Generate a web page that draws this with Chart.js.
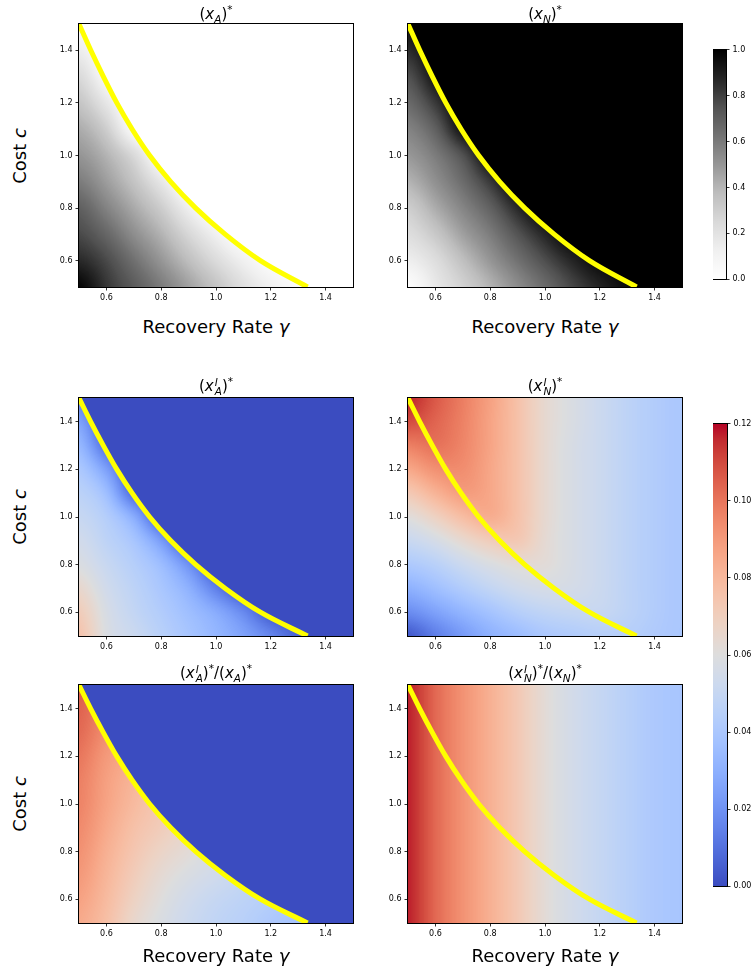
<!DOCTYPE html>
<html>
<head>
<meta charset="utf-8">
<script src="https://cdn.jsdelivr.net/npm/chart.js@4.4.0/dist/chart.umd.min.js"></script>
<style>
  body { margin: 0; width: 753px; height: 974px; overflow: hidden; position: relative; background: #fff; font-family: 'DejaVu Sans', sans-serif; color: #000; }
  .box { position: absolute; }
  .title { position: absolute; font-size: 15px; line-height: 1; white-space: nowrap; transform: translateX(-50%); }
  .title sub, .title sup { font-size: 0.7em; line-height: 0; }
  .ss { display: inline-flex; flex-direction: column; font-size: 0.7em; line-height: 0.85; vertical-align: 0.45em; font-style: italic; margin-left: 1px; }
  .xlab, .ylab { position: absolute; font-size: 18px; line-height: 1; white-space: nowrap; }
  .xlab { transform: translate(-50%, -50%); }
  .ylab { transform: translate(-50%, -50%) rotate(-90deg); }
</style>
</head>
<body>
<script>
// axes
const gammaRange = [0.5, 1.5];
const costRange = [0.5, 1.5];
const gammaTicks = [0.6, 0.8, 1.0, 1.2, 1.4];
const costTicks = [0.6, 0.8, 1.0, 1.2, 1.4];

// sample grid: columns gamma 0.5 .. 1.5, rows cost 1.5 (top) .. 0.5 (bottom)
const gridGamma = [0.5, 0.6, 0.7, 0.8, 0.9, 1.0, 1.1, 1.2, 1.3, 1.4, 1.5];
const gridCost = [1.5, 1.4, 1.3, 1.2, 1.1, 1.0, 0.9, 0.8, 0.7, 0.6, 0.5];

// threshold curve
const boundaryGamma = [0.5, 0.543, 0.589, 0.638, 0.694, 0.758, 0.835, 0.926, 1.034, 1.162, 1.334];
const boundaryCost = [1.5, 1.4, 1.3, 1.2, 1.1, 1.0, 0.9, 0.8, 0.7, 0.6, 0.5];

// (x_A)*
const xA = [
  [0.05, 0.00, 0.00, 0.00, 0.00, 0.00, 0.00, 0.00, 0.00, 0.00, 0.00],
  [0.15, 0.02, 0.00, 0.00, 0.00, 0.00, 0.00, 0.00, 0.00, 0.00, 0.00],
  [0.26, 0.06, 0.00, 0.00, 0.00, 0.00, 0.00, 0.00, 0.00, 0.00, 0.00],
  [0.35, 0.18, 0.00, 0.00, 0.00, 0.00, 0.00, 0.00, 0.00, 0.00, 0.00],
  [0.44, 0.31, 0.04, 0.00, 0.00, 0.00, 0.00, 0.00, 0.00, 0.00, 0.00],
  [0.51, 0.41, 0.26, 0.02, 0.00, 0.00, 0.00, 0.00, 0.00, 0.00, 0.00],
  [0.60, 0.48, 0.35, 0.18, 0.00, 0.00, 0.00, 0.00, 0.00, 0.00, 0.00],
  [0.71, 0.57, 0.44, 0.31, 0.13, 0.00, 0.00, 0.00, 0.00, 0.00, 0.00],
  [0.78, 0.68, 0.53, 0.41, 0.26, 0.12, 0.00, 0.00, 0.00, 0.00, 0.00],
  [0.87, 0.78, 0.64, 0.50, 0.37, 0.24, 0.12, 0.02, 0.00, 0.00, 0.00],
  [1.00, 0.83, 0.72, 0.60, 0.47, 0.35, 0.22, 0.12, 0.04, 0.00, 0.00]
];

// (x_N)*
const xN = [
  [0.95, 1.00, 1.00, 1.00, 1.00, 1.00, 1.00, 1.00, 1.00, 1.00, 1.00],
  [0.85, 0.98, 1.00, 1.00, 1.00, 1.00, 1.00, 1.00, 1.00, 1.00, 1.00],
  [0.74, 0.94, 1.00, 1.00, 1.00, 1.00, 1.00, 1.00, 1.00, 1.00, 1.00],
  [0.65, 0.82, 1.00, 1.00, 1.00, 1.00, 1.00, 1.00, 1.00, 1.00, 1.00],
  [0.56, 0.69, 0.96, 1.00, 1.00, 1.00, 1.00, 1.00, 1.00, 1.00, 1.00],
  [0.49, 0.59, 0.74, 0.98, 1.00, 1.00, 1.00, 1.00, 1.00, 1.00, 1.00],
  [0.40, 0.52, 0.65, 0.82, 1.00, 1.00, 1.00, 1.00, 1.00, 1.00, 1.00],
  [0.29, 0.43, 0.56, 0.69, 0.87, 1.00, 1.00, 1.00, 1.00, 1.00, 1.00],
  [0.22, 0.32, 0.47, 0.59, 0.74, 0.88, 1.00, 1.00, 1.00, 1.00, 1.00],
  [0.13, 0.22, 0.36, 0.50, 0.63, 0.76, 0.88, 0.98, 1.00, 1.00, 1.00],
  [0.00, 0.17, 0.28, 0.40, 0.53, 0.65, 0.78, 0.88, 0.96, 1.00, 1.00]
];

// (x_A^I)*
const xAI = [
  [0.015, 0.000, 0.000, 0.000, 0.000, 0.000, 0.000, 0.000, 0.000, 0.000, 0.000],
  [0.027, 0.002, 0.000, 0.000, 0.000, 0.000, 0.000, 0.000, 0.000, 0.000, 0.000],
  [0.035, 0.008, 0.000, 0.000, 0.000, 0.000, 0.000, 0.000, 0.000, 0.000, 0.000],
  [0.042, 0.025, 0.000, 0.000, 0.000, 0.000, 0.000, 0.000, 0.000, 0.000, 0.000],
  [0.047, 0.037, 0.006, 0.000, 0.000, 0.000, 0.000, 0.000, 0.000, 0.000, 0.000],
  [0.051, 0.044, 0.030, 0.002, 0.000, 0.000, 0.000, 0.000, 0.000, 0.000, 0.000],
  [0.055, 0.047, 0.040, 0.024, 0.000, 0.000, 0.000, 0.000, 0.000, 0.000, 0.000],
  [0.059, 0.051, 0.044, 0.036, 0.020, 0.000, 0.000, 0.000, 0.000, 0.000, 0.000],
  [0.066, 0.054, 0.047, 0.040, 0.031, 0.014, 0.000, 0.000, 0.000, 0.000, 0.000],
  [0.072, 0.057, 0.049, 0.043, 0.036, 0.029, 0.018, 0.002, 0.000, 0.000, 0.000],
  [0.076, 0.058, 0.052, 0.045, 0.039, 0.033, 0.026, 0.017, 0.006, 0.000, 0.000]
];

// (x_N^I)*
const xNI = [
  [0.118, 0.107, 0.098, 0.088, 0.076, 0.064, 0.058, 0.052, 0.047, 0.043, 0.040],
  [0.110, 0.104, 0.097, 0.087, 0.076, 0.064, 0.058, 0.052, 0.047, 0.043, 0.040],
  [0.097, 0.101, 0.096, 0.087, 0.076, 0.064, 0.057, 0.052, 0.047, 0.043, 0.040],
  [0.085, 0.093, 0.094, 0.086, 0.076, 0.064, 0.057, 0.052, 0.047, 0.043, 0.040],
  [0.072, 0.082, 0.090, 0.086, 0.076, 0.064, 0.057, 0.052, 0.047, 0.043, 0.040],
  [0.060, 0.068, 0.078, 0.085, 0.076, 0.064, 0.057, 0.052, 0.047, 0.043, 0.040],
  [0.051, 0.056, 0.064, 0.071, 0.074, 0.063, 0.057, 0.052, 0.047, 0.043, 0.040],
  [0.041, 0.045, 0.052, 0.058, 0.062, 0.062, 0.057, 0.052, 0.047, 0.043, 0.040],
  [0.030, 0.036, 0.043, 0.049, 0.054, 0.057, 0.056, 0.052, 0.047, 0.043, 0.040],
  [0.018, 0.025, 0.032, 0.038, 0.044, 0.048, 0.050, 0.051, 0.047, 0.043, 0.040],
  [0.002, 0.013, 0.022, 0.030, 0.035, 0.040, 0.042, 0.044, 0.044, 0.042, 0.040]
];

// (x_A^I)*/(x_A)*
const ratioA = [
  [0.107, 0.097, 0.089, 0.081, 0.073, 0.064, 0.057, 0.051, 0.046, 0.042, 0.039],
  [0.105, 0.095, 0.087, 0.080, 0.072, 0.064, 0.057, 0.051, 0.046, 0.042, 0.039],
  [0.103, 0.093, 0.086, 0.079, 0.071, 0.063, 0.056, 0.050, 0.046, 0.042, 0.039],
  [0.100, 0.090, 0.084, 0.077, 0.070, 0.063, 0.056, 0.050, 0.045, 0.041, 0.038],
  [0.098, 0.088, 0.081, 0.075, 0.069, 0.062, 0.055, 0.050, 0.045, 0.041, 0.038],
  [0.097, 0.087, 0.079, 0.073, 0.067, 0.061, 0.055, 0.049, 0.045, 0.041, 0.038],
  [0.095, 0.085, 0.076, 0.071, 0.065, 0.060, 0.054, 0.049, 0.044, 0.041, 0.038],
  [0.093, 0.083, 0.074, 0.067, 0.062, 0.057, 0.052, 0.048, 0.044, 0.040, 0.037],
  [0.091, 0.081, 0.071, 0.063, 0.058, 0.054, 0.050, 0.046, 0.043, 0.040, 0.037],
  [0.088, 0.079, 0.068, 0.060, 0.054, 0.050, 0.047, 0.044, 0.041, 0.039, 0.036],
  [0.085, 0.077, 0.065, 0.058, 0.052, 0.048, 0.045, 0.041, 0.038, 0.036, 0.034]
];

// (x_N^I)*/(x_N)*  (constant along cost, one row)
const ratioN = [
  [0.118, 0.103, 0.092, 0.083, 0.073, 0.062, 0.055, 0.050, 0.045, 0.041, 0.039]
];

// colour bars
const greysTicks = [0.0, 0.2, 0.4, 0.6, 0.8, 1.0];
const coolTicks = [0.00, 0.02, 0.04, 0.06, 0.08, 0.10, 0.12];

// colour maps
const GREYS = [[255,255,255],[240,240,240],[217,217,217],[189,189,189],[150,150,150],[115,115,115],[82,82,82],[37,37,37],[0,0,0]];
const COOLWARM = [
  [59,76,192],[68,90,204],[77,104,215],[87,117,225],[98,130,234],[108,142,241],[119,154,247],[130,165,251],
  [141,176,254],[152,185,255],[163,194,255],[174,201,253],[184,208,249],[194,213,244],[204,217,238],[213,219,230],
  [221,221,221],[229,216,209],[236,211,197],[241,204,185],[245,196,173],[247,187,160],[247,177,148],[247,166,135],
  [244,154,123],[241,141,111],[236,127,99],[229,112,88],[222,96,77],[213,80,66],[203,62,56],[192,40,47],[180,4,38]
];

function sampleMap(stops, t) {
  t = Math.min(1, Math.max(0, t));
  const f = t * (stops.length - 1);
  const i = Math.min(stops.length - 2, Math.floor(f));
  const k = f - i;
  const a = stops[i], b = stops[i + 1];
  return [a[0] + (b[0] - a[0]) * k, a[1] + (b[1] - a[1]) * k, a[2] + (b[2] - a[2]) * k];
}
function cssColor(rgb) {
  return 'rgb(' + rgb.map(Math.round).join(',') + ')';
}

const FONT = 'DejaVu Sans';
const AX_W = 40, AX_H = 24, PAD_T = 8, PAD_R = 8;
const PLOT_W = 274;

// paint one field into the chart area: values go through a grey image, get smoothed
// by the canvas scaler, then are recoloured with the colour map
function paintField(chart, p) {
  const ctx = chart.ctx, area = chart.chartArea;
  const xs = chart.scales.x, ys = chart.scales.y;
  const grid = p.field, nr = grid.length, nc = grid[0].length;

  const src = document.createElement('canvas');
  src.width = nc + 2; src.height = nr + 2;
  const sctx = src.getContext('2d');
  const img = sctx.createImageData(nc + 2, nr + 2);
  for (let r = 0; r < nr + 2; r++) {
    for (let c = 0; c < nc + 2; c++) {
      const rr = Math.min(nr - 1, Math.max(0, r - 1));
      const cc = Math.min(nc - 1, Math.max(0, c - 1));
      const g = Math.round(Math.min(1, Math.max(0, grid[rr][cc] / p.vmax)) * 255);
      const i = (r * (nc + 2) + c) * 4;
      img.data[i] = g; img.data[i + 1] = g; img.data[i + 2] = g; img.data[i + 3] = 255;
    }
  }
  sctx.putImageData(img, 0, 0);

  const x0 = xs.getPixelForValue(gridGamma[0]), x1 = xs.getPixelForValue(gridGamma[gridGamma.length - 1]);
  const y0 = ys.getPixelForValue(gridCost[0]), y1 = ys.getPixelForValue(gridCost[gridCost.length - 1]);
  const cw = nc > 1 ? (x1 - x0) / (nc - 1) : (x1 - x0);
  const ch = nr > 1 ? (y1 - y0) / (nr - 1) : (y1 - y0);
  const cx = nc > 1 ? x0 : (x0 + x1) / 2;
  const cy = nr > 1 ? y0 : (y0 + y1) / 2;

  const W = Math.round(area.right - area.left), H = Math.round(area.bottom - area.top);
  const big = document.createElement('canvas');
  big.width = W; big.height = H;
  const bctx = big.getContext('2d');
  bctx.imageSmoothingEnabled = true;
  bctx.imageSmoothingQuality = 'high';
  bctx.drawImage(src, cx - 1.5 * cw - area.left, cy - 1.5 * ch - area.top, (nc + 2) * cw, (nr + 2) * ch);
  const pix = bctx.getImageData(0, 0, W, H);
  for (let i = 0; i < pix.data.length; i += 4) {
    const rgb = sampleMap(p.cmap, pix.data[i] / 255);
    pix.data[i] = rgb[0]; pix.data[i + 1] = rgb[1]; pix.data[i + 2] = rgb[2]; pix.data[i + 3] = 255;
  }
  bctx.putImageData(pix, 0, 0);

  ctx.save();
  if (p.above !== undefined) {
    // constant region above the threshold curve, field clipped below it
    ctx.fillStyle = cssColor(sampleMap(p.cmap, p.above / p.vmax));
    ctx.fillRect(area.left, area.top, area.right - area.left, area.bottom - area.top);
    const line = chart.getDatasetMeta(0).dataset;
    ctx.beginPath();
    if (line && typeof line.path === 'function') {
      if (typeof line.updateControlPoints === 'function') line.updateControlPoints(area, 'x');
      line.path(ctx);
    } else {
      chart.getDatasetMeta(0).data.forEach((pt, i) => i ? ctx.lineTo(pt.x, pt.y) : ctx.moveTo(pt.x, pt.y));
    }
    ctx.lineTo(area.left - 2, area.bottom + 2);
    ctx.lineTo(area.left - 2, area.top - 2);
    ctx.closePath();
    ctx.clip();
  }
  ctx.drawImage(big, area.left, area.top);
  ctx.restore();
}

const framePlugin = {
  id: 'frame',
  afterDraw(chart) {
    const ctx = chart.ctx, a = chart.chartArea;
    ctx.save();
    ctx.strokeStyle = '#000';
    ctx.lineWidth = 1;
    ctx.strokeRect(Math.round(a.left) - 0.5, Math.round(a.top) - 0.5, Math.round(a.right - a.left) + 1, Math.round(a.bottom - a.top) + 1);
    ctx.restore();
  }
};

function tickStyle(decimals) {
  return { font: { family: FONT, size: 8 }, color: '#000', padding: 3, maxRotation: 0, autoSkip: false,
           callback: v => Number(v).toFixed(decimals) };
}
const tickGrid = { drawOnChartArea: false, drawTicks: true, tickLength: 3.5, color: '#000', lineWidth: 0.8 };

function makePanel(p) {
  const W = PLOT_W + AX_W + PAD_R, H = p.h + PAD_T + AX_H;
  const div = document.createElement('div');
  div.className = 'box';
  div.style.left = (p.left - AX_W) + 'px';
  div.style.top = (p.top - PAD_T) + 'px';
  const cv = document.createElement('canvas');
  cv.width = W; cv.height = H;
  cv.style.width = W + 'px'; cv.style.height = H + 'px';
  div.appendChild(cv);
  document.body.appendChild(div);

  const curve = boundaryGamma.map((g, i) => ({ x: g, y: boundaryCost[i] }));

  new Chart(cv, {
    type: 'line',
    data: {
      datasets: [{
        data: curve,
        borderColor: '#ffff00',
        borderWidth: 5,
        pointRadius: 0,
        cubicInterpolationMode: 'monotone',
        fill: false,
        clip: 0
      }]
    },
    options: {
      responsive: false,
      animation: false,
      devicePixelRatio: 1,
      layout: { padding: { top: PAD_T, right: PAD_R, left: 0, bottom: 0 } },
      plugins: { legend: { display: false }, tooltip: { enabled: false } },
      scales: {
        x: {
          type: 'linear', min: gammaRange[0], max: gammaRange[1],
          afterBuildTicks: s => { s.ticks = gammaTicks.map(v => ({ value: v })); },
          afterFit: s => { s.height = AX_H; },
          ticks: tickStyle(1),
          grid: tickGrid,
          border: { display: true, color: '#000', width: 1 }
        },
        y: {
          type: 'linear', min: costRange[0], max: costRange[1],
          afterBuildTicks: s => { s.ticks = costTicks.map(v => ({ value: v })); },
          afterFit: s => { s.width = AX_W; },
          ticks: tickStyle(1),
          grid: tickGrid,
          border: { display: true, color: '#000', width: 1 }
        }
      }
    },
    plugins: [{ id: 'heat', beforeDatasetsDraw(chart) { paintField(chart, p); } }, framePlugin]
  });
}

function makeColorbar(cb) {
  const CB_AX = 28, PAD = 6;
  const W = cb.w + CB_AX, H = cb.h + 2 * PAD;
  const div = document.createElement('div');
  div.className = 'box';
  div.style.left = cb.left + 'px';
  div.style.top = (cb.top - PAD) + 'px';
  const cv = document.createElement('canvas');
  cv.width = W; cv.height = H;
  cv.style.width = W + 'px'; cv.style.height = H + 'px';
  div.appendChild(cv);
  document.body.appendChild(div);

  new Chart(cv, {
    type: 'scatter',
    data: { datasets: [] },
    options: {
      responsive: false,
      animation: false,
      devicePixelRatio: 1,
      layout: { padding: { top: PAD, bottom: PAD, left: 0, right: 0 } },
      plugins: { legend: { display: false }, tooltip: { enabled: false } },
      scales: {
        x: { display: false, min: 0, max: 1 },
        y: {
          position: 'right', min: cb.ticks[0], max: cb.ticks[cb.ticks.length - 1],
          afterBuildTicks: s => { s.ticks = cb.ticks.map(v => ({ value: v })); },
          afterFit: s => { s.width = CB_AX; },
          ticks: tickStyle(cb.decimals),
          grid: tickGrid,
          border: { display: true, color: '#000', width: 1 }
        }
      }
    },
    plugins: [{
      id: 'ramp',
      beforeDatasetsDraw(chart) {
        const ctx = chart.ctx, a = chart.chartArea;
        const grad = ctx.createLinearGradient(0, a.bottom, 0, a.top);
        cb.cmap.forEach((c, i) => grad.addColorStop(i / (cb.cmap.length - 1), cssColor(c)));
        ctx.save();
        ctx.fillStyle = grad;
        ctx.fillRect(a.left, a.top, a.right - a.left, a.bottom - a.top);
        ctx.restore();
      }
    }, framePlugin]
  });
}

const ROW_TOP = { top: 24, h: 263 }, ROW_MID = { top: 398, h: 238 }, ROW_BOT = { top: 685, h: 238 };
const COL_L = 79, COL_R = 408;

const panels = [
  { field: xA,     cmap: GREYS,    vmax: 1,    above: 0, left: COL_L, ...ROW_TOP },
  { field: xN,     cmap: GREYS,    vmax: 1,    above: 1, left: COL_R, ...ROW_TOP },
  { field: xAI,    cmap: COOLWARM, vmax: 0.12, above: 0, left: COL_L, ...ROW_MID },
  { field: xNI,    cmap: COOLWARM, vmax: 0.12,           left: COL_R, ...ROW_MID },
  { field: ratioA, cmap: COOLWARM, vmax: 0.12, above: 0, left: COL_L, ...ROW_BOT },
  { field: ratioN, cmap: COOLWARM, vmax: 0.12,           left: COL_R, ...ROW_BOT }
];
panels.forEach(makePanel);

makeColorbar({ left: 713, top: 48, w: 13, h: 233, cmap: GREYS, ticks: greysTicks, decimals: 1 });
makeColorbar({ left: 713, top: 422, w: 14, h: 466, cmap: COOLWARM, ticks: coolTicks, decimals: 2 });

// titles and axis labels
function addText(cls, html, x, y) {
  const d = document.createElement('div');
  d.className = cls;
  d.innerHTML = html;
  d.style.left = x + 'px';
  d.style.top = y + 'px';
  document.body.appendChild(d);
}
const xI_A = '<i>x</i><span class="ss"><span>I</span><span>A</span></span>';
const xI_N = '<i>x</i><span class="ss"><span>I</span><span>N</span></span>';
const cL = COL_L + PLOT_W / 2, cR = COL_R + PLOT_W / 2;

addText('title', '(<i>x</i><sub><i>A</i></sub>)<sup>*</sup>', cL, 7);
addText('title', '(<i>x</i><sub><i>N</i></sub>)<sup>*</sup>', cR, 7);
addText('title', '(' + xI_A + ')<sup>*</sup>', cL, 378);
addText('title', '(' + xI_N + ')<sup>*</sup>', cR, 378);
addText('title', '(' + xI_A + ')<sup>*</sup>/(<i>x</i><sub><i>A</i></sub>)<sup>*</sup>', cL, 665);
addText('title', '(' + xI_N + ')<sup>*</sup>/(<i>x</i><sub><i>N</i></sub>)<sup>*</sup>', cR, 665);

addText('ylab', 'Cost <i>c</i>', 20, 156);
addText('ylab', 'Cost <i>c</i>', 20, 517);
addText('ylab', 'Cost <i>c</i>', 20, 804);
addText('xlab', 'Recovery Rate <i>γ</i>', cL, 327);
addText('xlab', 'Recovery Rate <i>γ</i>', cR, 327);
addText('xlab', 'Recovery Rate <i>γ</i>', cL, 956);
addText('xlab', 'Recovery Rate <i>γ</i>', cR, 956);
</script>
</body>
</html>
